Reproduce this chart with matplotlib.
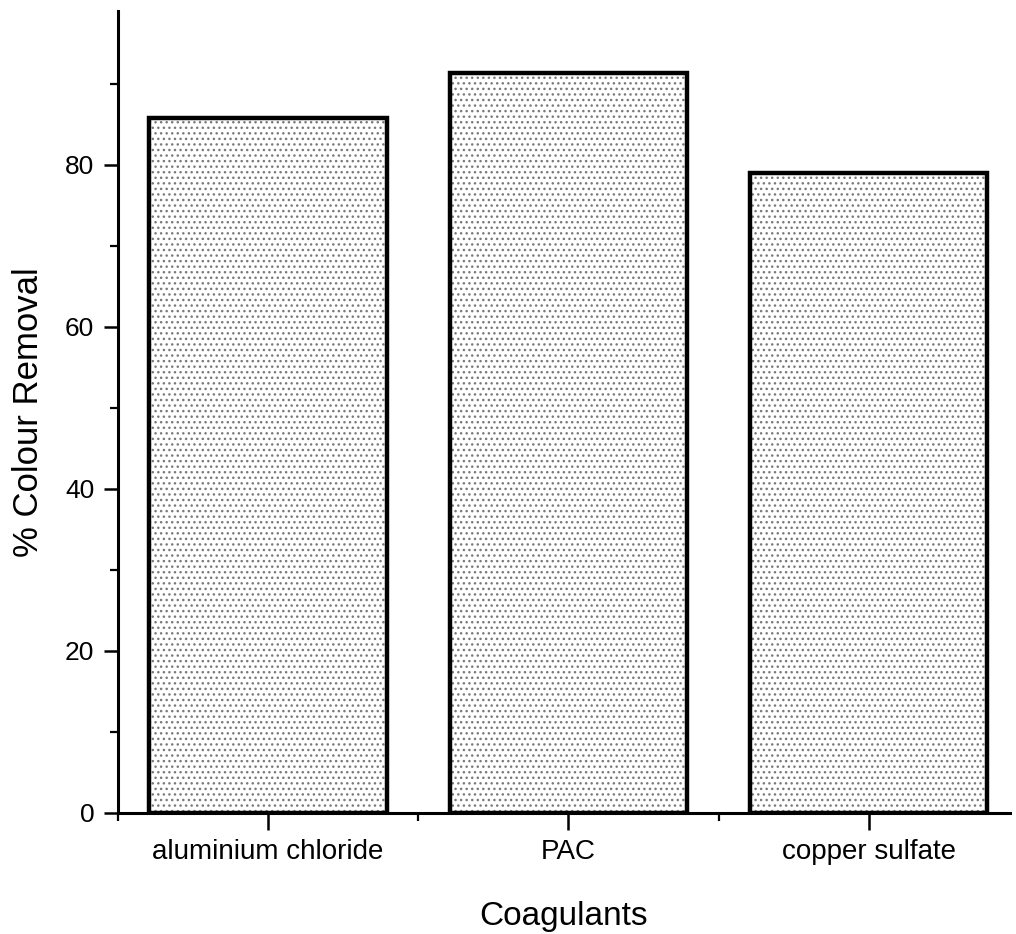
import matplotlib
matplotlib.use("Agg")
from matplotlib import pyplot as plt
from matplotlib.ticker import MultipleLocator, FixedLocator

coagulants = ["aluminium chloride", "PAC", "copper sulfate"]
removal = [85.8, 91.4, 79.0]

plt.rcParams["font.family"] = ["Liberation Sans", "DejaVu Sans"]

fig = plt.figure(figsize=(10.16, 9.34), dpi=100)
ax = fig.add_axes([0.116, 0.1296, 0.878, 0.8586])

pos = [i + 1 for i in range(len(coagulants))]

# speckled fill first, then the heavy black outline on top
ax.bar(pos, removal, width=0.79, color="white", edgecolor="#7a7a7a",
       hatch="...", linewidth=0, zorder=2)
ax.bar(pos, removal, width=0.79, fill=False, edgecolor="black",
       linewidth=3.2, zorder=3)

ax.set_xlim(0.5, 3.47)
ax.set_ylim(0, 99)

ax.set_xticks(pos)
ax.set_xticklabels(coagulants, fontsize=20)
ax.xaxis.set_minor_locator(FixedLocator([0.5, 1.5, 2.5]))
ax.yaxis.set_major_locator(MultipleLocator(20))
ax.yaxis.set_minor_locator(MultipleLocator(10))
ax.tick_params(axis="y", labelsize=19)

ax.tick_params(axis="x", which="major", length=12, width=1.8, pad=7)
ax.tick_params(axis="y", which="major", length=10, width=1.8, pad=7)
ax.tick_params(which="minor", length=6, width=1.6)

for side in ["top", "right"]:
    ax.spines[side].set_visible(False)
for side in ["left", "bottom"]:
    ax.spines[side].set_linewidth(2.2)

ax.set_xlabel("Coagulants", fontsize=24, labelpad=26)
ax.set_ylabel("% Colour Removal", fontsize=25, labelpad=14)

fig.savefig("out.png", dpi=100)
